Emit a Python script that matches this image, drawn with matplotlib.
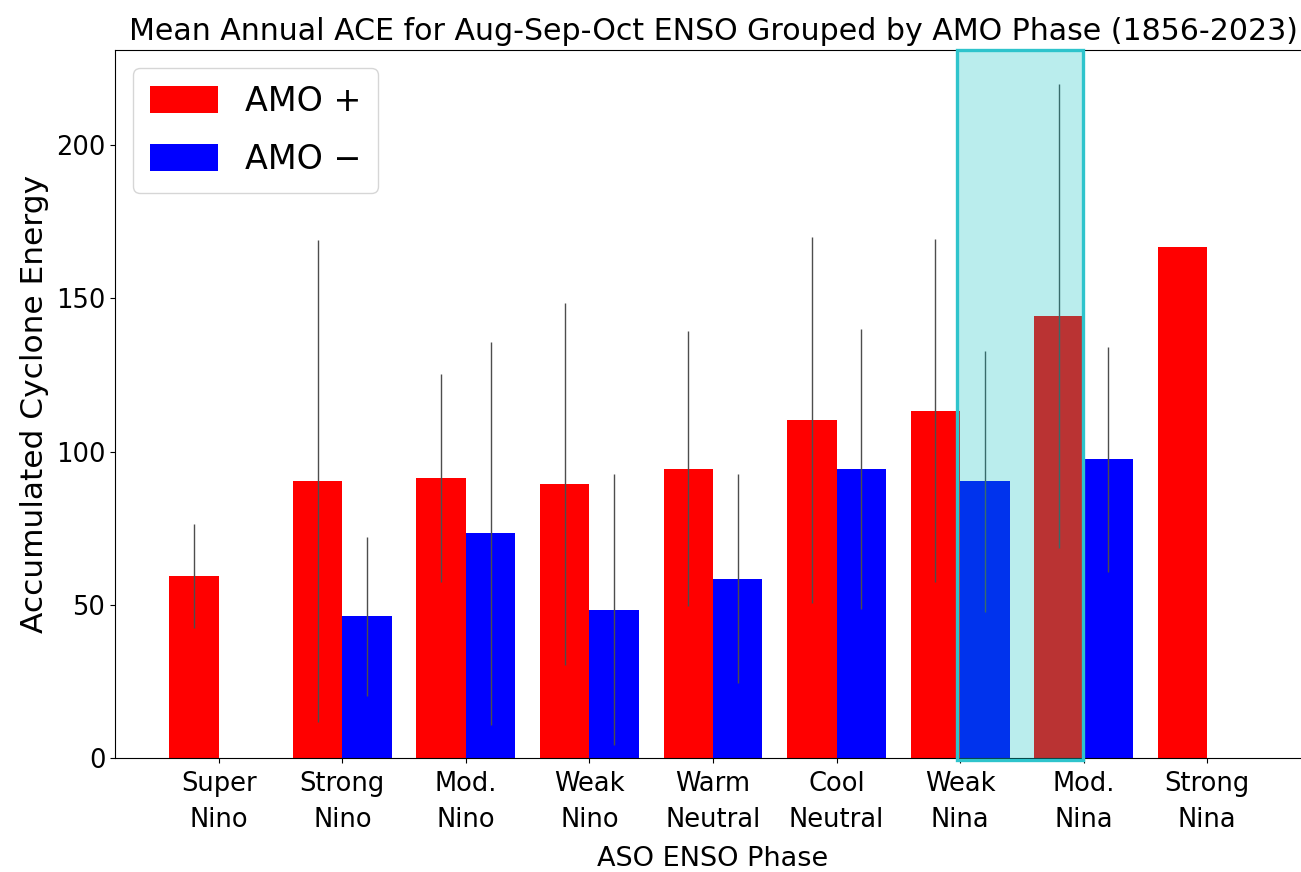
import numpy as np
import matplotlib
matplotlib.use("Agg")
import matplotlib.pyplot as plt
from matplotlib.patches import Rectangle

categories = ["Super\nNino", "Strong\nNino", "Mod.\nNino", "Weak\nNino", "Warm\nNeutral",
              "Cool\nNeutral", "Weak\nNina", "Mod.\nNina", "Strong\nNina"]
amo_pos = [59.5, 90.3, 91.4, 89.5, 94.4, 110.3, 113.3, 144.3, 166.6]
amo_pos_err = [17.0, 78.6, 34.0, 59.1, 44.8, 59.7, 56.0, 75.7, 0.0]
amo_neg = [np.nan, 46.2, 73.3, 48.4, 58.5, 94.4, 90.3, 97.4, np.nan]
amo_neg_err = [np.nan, 26.0, 62.4, 44.2, 34.0, 45.7, 42.6, 36.6, np.nan]

fig = plt.figure(figsize=(13.01, 8.72), dpi=100)
ax = fig.add_axes([115/1301, (872-758)/872, 1196/1301, 708/872])

x = np.arange(len(categories))
w = 0.4
ax.bar(x - w/2, amo_pos, w, yerr=amo_pos_err, color="red", label="AMO +",
       error_kw=dict(ecolor="0.3", elinewidth=1.0, capsize=0))
ax.bar(x + w/2, amo_neg, w, yerr=amo_neg_err, color="blue", label="AMO \u2212",
       error_kw=dict(ecolor="0.3", elinewidth=1.0, capsize=0))

ax.set_xticks(x)
ax.set_xticklabels(categories, fontsize=18.5, linespacing=1.5)
ax.tick_params(axis="y", labelsize=18.5)
ax.tick_params(axis="x", pad=6)
ax.set_yticks([0, 50, 100, 150, 200])
ax.set_xlim(-0.84, 8.84)
ax.set_ylim(0, 231)

ax.add_patch(Rectangle((5.975, -0.5), 1.02, 231.5, facecolor=(0, 0.75, 0.75, 0.27),
                       edgecolor=(0.18, 0.77, 0.8), linewidth=2.4, zorder=5, clip_on=False))

ax.set_title("Mean Annual ACE for Aug-Sep-Oct ENSO Grouped by AMO Phase (1856-2023)",
             fontsize=21.6, pad=7)
ax.set_xlabel("ASO ENSO Phase", fontsize=19.5, labelpad=9)
ax.set_ylabel("Accumulated Cyclone Energy", fontsize=22.5, labelpad=5)
ax.legend(loc="upper left", fontsize=24, handlelength=2.05, handleheight=0.85,
          labelspacing=0.75, borderpad=0.5, borderaxespad=0.55)

fig.savefig("out.png", dpi=100)
